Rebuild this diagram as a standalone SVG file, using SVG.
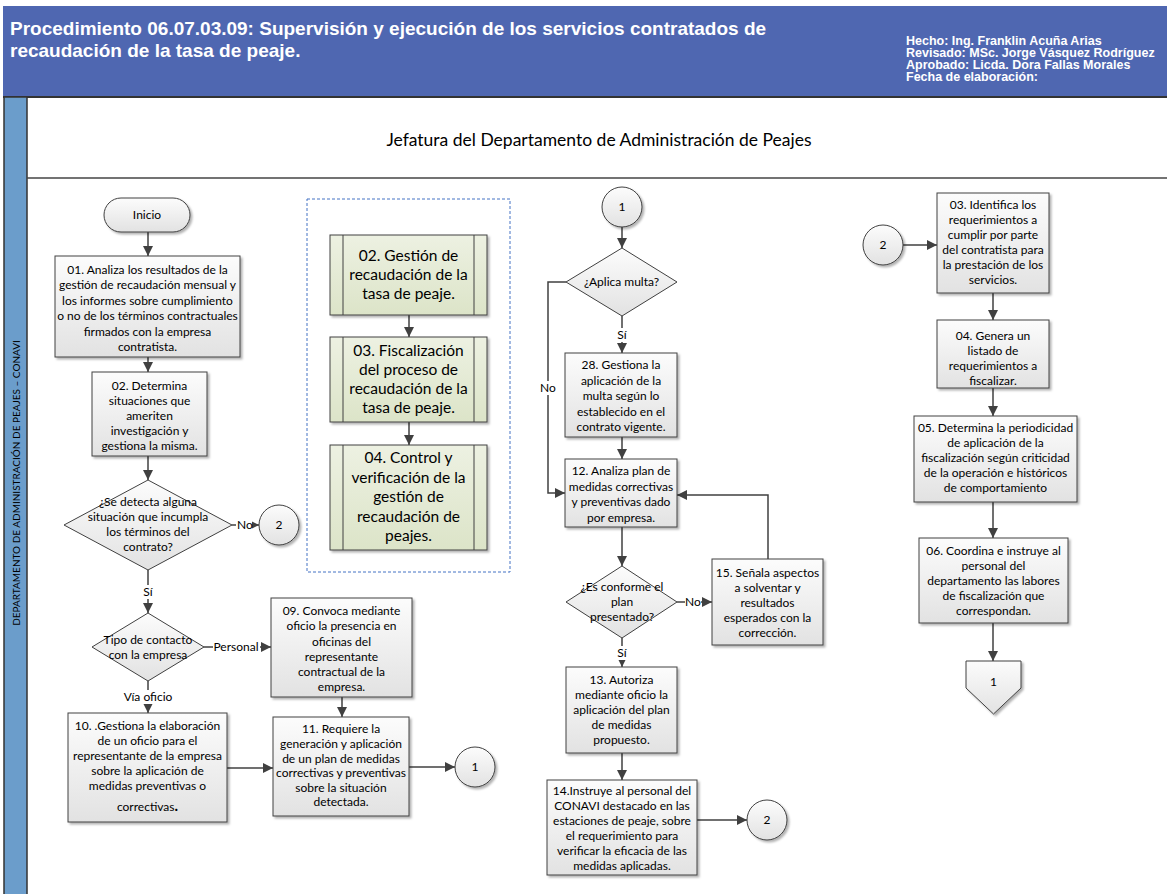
<svg xmlns="http://www.w3.org/2000/svg" width="1167" height="894" viewBox="0 0 1167 894">
<style>
.hdr{font-family:"Liberation Sans",Arial,sans-serif;font-weight:bold;fill:#fff}
.t{font-family:Lato,"Liberation Sans",sans-serif;font-size:12px;fill:#000;text-anchor:middle}
.g{font-family:Lato,"Liberation Sans",sans-serif;font-size:15.5px;fill:#000;text-anchor:middle}
.box{fill:url(#gb);stroke:#404040;stroke-width:1;filter:url(#sh)}
.gbox{fill:url(#gg);stroke:#404040;stroke-width:1;filter:url(#sh)}
.dia{fill:url(#gb);stroke:#404040;stroke-width:1}
.edge{fill:none;stroke:#404040;stroke-width:1.5;marker-end:url(#ar)}
.lbl{fill:#fff}
</style>
<defs>
<linearGradient id="gb" x1="0" y1="0" x2="0" y2="1"><stop offset="0" stop-color="#FCFCFC"/><stop offset="1" stop-color="#E2E2E2"/></linearGradient>
<linearGradient id="gg" x1="0" y1="0" x2="0" y2="1"><stop offset="0" stop-color="#EDF1E2"/><stop offset="1" stop-color="#DCE4C8"/></linearGradient>
<filter id="sh" x="-10%" y="-10%" width="130%" height="130%"><feDropShadow dx="2" dy="2" stdDeviation="1" flood-color="#000" flood-opacity="0.3"/></filter>
<marker id="ar" viewBox="0 0 10 10" refX="10" refY="5" markerWidth="10" markerHeight="10" markerUnits="userSpaceOnUse" orient="auto"><path d="M0,0 L10,5 L0,10 z" fill="#404040"/></marker>
</defs>

<g id="pool">
<rect x="3" y="6" width="1164" height="91" fill="#4F67B1"/>
<line x1="3" y1="97" x2="1167" y2="97" stroke="#333" stroke-width="2"/>
<text class="hdr" font-size="19" x="10" y="35">Procedimiento 06.07.03.09: Supervisión y ejecución de los servicios contratados de</text>
<text class="hdr" font-size="19" x="10" y="57">recaudación de la tasa de peaje.</text>
<text class="hdr" font-size="12.5" x="906" y="45">Hecho: Ing. Franklin Acuña Arias</text>
<text class="hdr" font-size="12.5" x="906" y="57">Revisado: MSc. Jorge Vásquez Rodríguez</text>
<text class="hdr" font-size="12.5" x="906" y="69">Aprobado: Licda. Dora Fallas Morales</text>
<text class="hdr" font-size="12.5" x="906" y="81">Fecha de elaboración:</text>
<rect x="4" y="97" width="23" height="800" fill="#6B9DCB" stroke="#333" stroke-width="1.5"/>
<line x1="27" y1="178" x2="1167" y2="178" stroke="#444" stroke-width="1.5"/>
<text x="599" y="146" font-family="Lato,'Liberation Sans',sans-serif" font-size="17.5" text-anchor="middle" fill="#000">Jefatura del Departamento de Administración de Peajes</text>
<text transform="translate(20,483) rotate(-90)" font-family="Lato,'Liberation Sans',sans-serif" font-size="10" text-anchor="middle" fill="#000">DEPARTAMENTO DE ADMINISTRACIÓN DE PEAJES – CONAVI</text>
</g>

<g id="connectors">
<path class="edge" d="M148,232 V256"/>
<path class="edge" d="M148,357 V372"/>
<path class="edge" d="M148,456 V480"/>
<path class="edge" d="M232,525 H259"/>
<path class="edge" d="M148,570 V613"/>
<path class="edge" d="M204,647 H271"/>
<path class="edge" d="M148,681 V713"/>
<path class="edge" d="M342,697 V717"/>
<path class="edge" d="M227,768 H273"/>
<path class="edge" d="M409,767 H455"/>
<path class="edge" d="M409,315 V337"/>
<path class="edge" d="M409,422 V445"/>
<path class="edge" d="M622,227 V248"/>
<path class="edge" d="M566,282 H548 V493 H565"/>
<path class="edge" d="M622,316 V353"/>
<path class="edge" d="M622,437 V459"/>
<path class="edge" d="M622,527 V566"/>
<path class="edge" d="M677,602 H712"/>
<path class="edge" d="M768,559 V495 H677"/>
<path class="edge" d="M622,638 V667"/>
<path class="edge" d="M622,753 V780"/>
<path class="edge" d="M697,820 H747"/>
<path class="edge" d="M903,245 H937"/>
<path class="edge" d="M993,293 V320"/>
<path class="edge" d="M993,388 V416"/>
<path class="edge" d="M993,502 V538"/>
<path class="edge" d="M993,623 V661"/>
<rect class="lbl" x="236" y="518" width="16" height="14"/><text class="t" x="245" y="529">No</text>
<rect class="lbl" x="141" y="585" width="14" height="14"/><text class="t" x="148" y="596">Sí</text>
<rect class="lbl" x="213" y="640" width="47" height="14"/><text class="t" x="236" y="651">Personal</text>
<rect class="lbl" x="120" y="690" width="56" height="14"/><text class="t" x="148" y="701">Vía oficio</text>
<rect class="lbl" x="539" y="381" width="18" height="14"/><text class="t" x="548" y="392">No</text>
<rect class="lbl" x="615" y="328" width="14" height="14"/><text class="t" x="622" y="339">Sí</text>
<rect class="lbl" x="685" y="595" width="16" height="14"/><text class="t" x="693" y="606">No</text>
<rect class="lbl" x="615" y="646" width="14" height="14"/><text class="t" x="622" y="657">Sí</text>
</g>

<g id="inicio"><rect class="box" x="104" y="198" width="86" height="34" rx="17"/><text class="t" x="147" y="219">Inicio</text></g>

<g id="n01"><rect class="box" x="55" y="256" width="185" height="101"/>
<text class="t" x="147.5"><tspan x="147.5" y="273.5">01. Analiza los resultados de la</tspan><tspan x="147.5" y="289">gestión de recaudación mensual y</tspan><tspan x="147.5" y="304.5">los informes sobre cumplimiento</tspan><tspan x="147.5" y="320">o no de los términos contractuales</tspan><tspan x="147.5" y="335.5">firmados con la empresa</tspan><tspan x="147.5" y="351">contratista.</tspan></text></g>

<g id="n02"><rect class="box" x="92" y="372" width="115" height="84"/>
<text class="t"><tspan x="149.5" y="390">02. Determina</tspan><tspan x="149.5" y="405">situaciones que</tspan><tspan x="149.5" y="420">ameriten</tspan><tspan x="149.5" y="435">investigación y</tspan><tspan x="149.5" y="450">gestiona la misma.</tspan></text></g>

<g id="d1"><polygon class="dia" points="148,480 232,525 148,570 64,525"/>
<text class="t"><tspan x="148" y="506">¿Se detecta alguna</tspan><tspan x="148" y="521">situación que incumpla</tspan><tspan x="148" y="536">los términos del</tspan><tspan x="148" y="551">contrato?</tspan></text></g>

<g id="c2a"><circle class="box" cx="279" cy="525" r="20"/><text class="t" x="279" y="529">2</text></g>

<g id="d2"><polygon class="dia" points="148,613 204,647 148,681 92,647"/>
<text class="t"><tspan x="148" y="644">Tipo de contacto</tspan><tspan x="148" y="659">con la empresa</tspan></text></g>

<g id="n09"><rect class="box" x="271" y="598" width="141" height="99"/>
<text class="t"><tspan x="341.5" y="614.5">09. Convoca mediante</tspan><tspan x="341.5" y="630">oficio la presencia en</tspan><tspan x="341.5" y="645.5">oficinas del</tspan><tspan x="341.5" y="661">representante</tspan><tspan x="341.5" y="676">contractual de la</tspan><tspan x="341.5" y="691">empresa.</tspan></text></g>

<g id="n10"><rect class="box" x="68" y="713" width="159" height="109"/>
<text class="t"><tspan x="147.5" y="730">10. .Gestiona la elaboración</tspan><tspan x="147.5" y="745">de un oficio para el</tspan><tspan x="147.5" y="760">representante de la empresa</tspan><tspan x="147.5" y="775">sobre  la aplicación de</tspan><tspan x="147.5" y="790">medidas preventivas o</tspan><tspan x="147.5" y="811">correctivas<tspan font-size="15" font-weight="bold">.</tspan></tspan></text></g>

<g id="n11"><rect class="box" x="273" y="717" width="136" height="99"/>
<text class="t"><tspan x="341" y="733">11. Requiere la</tspan><tspan x="341" y="748">generación y aplicación</tspan><tspan x="341" y="762.5">de un plan de medidas</tspan><tspan x="341" y="777">correctivas y preventivas</tspan><tspan x="341" y="791.5">sobre la situación</tspan><tspan x="341" y="806">detectada.</tspan></text></g>

<g id="c1a"><circle class="box" cx="475" cy="767" r="20"/><text class="t" x="475" y="771">1</text></g>

<g id="subprocs"><rect x="307" y="199" width="203" height="373" fill="none" stroke="#4472C4" stroke-width="1" stroke-dasharray="3,2"/></g>

<g id="sp02"><rect class="gbox" x="330" y="235" width="157" height="80"/><line x1="343" y1="235" x2="343" y2="315" stroke="#404040"/><line x1="474" y1="235" x2="474" y2="315" stroke="#404040"/>
<text class="g"><tspan x="408.5" y="261">02. Gestión de</tspan><tspan x="408.5" y="280">recaudación de la</tspan><tspan x="408.5" y="299">tasa de peaje.</tspan></text></g>

<g id="sp03"><rect class="gbox" x="330" y="337" width="157" height="85"/><line x1="343" y1="337" x2="343" y2="422" stroke="#404040"/><line x1="474" y1="337" x2="474" y2="422" stroke="#404040"/>
<text class="g"><tspan x="408.5" y="356">03. Fiscalización</tspan><tspan x="408.5" y="375">del proceso de</tspan><tspan x="408.5" y="394">recaudación de la</tspan><tspan x="408.5" y="413">tasa de peaje.</tspan></text></g>

<g id="sp04"><rect class="gbox" x="330" y="445" width="157" height="105"/><line x1="343" y1="445" x2="343" y2="550" stroke="#404040"/><line x1="474" y1="445" x2="474" y2="550" stroke="#404040"/>
<text class="g"><tspan x="408.5" y="463">04. Control y</tspan><tspan x="408.5" y="482.5">verificación de la</tspan><tspan x="408.5" y="502">gestión de</tspan><tspan x="408.5" y="521.5">recaudación de</tspan><tspan x="408.5" y="541">peajes.</tspan></text></g>

<g id="c1b"><circle class="box" cx="622" cy="207" r="20"/><text class="t" x="622" y="211">1</text></g>

<g id="d3"><polygon class="dia" points="622,248 677,282 622,316 566,282"/><text class="t" x="621.5" y="286">¿Aplica multa?</text></g>

<g id="n28"><rect class="box" x="565" y="353" width="112" height="84"/>
<text class="t"><tspan x="621" y="369">28. Gestiona la</tspan><tspan x="621" y="384.5">aplicación de la</tspan><tspan x="621" y="400">multa según lo</tspan><tspan x="621" y="415.5">establecido en el</tspan><tspan x="621" y="431">contrato vigente.</tspan></text></g>

<g id="n12"><rect class="box" x="565" y="459" width="112" height="68"/>
<text class="t"><tspan x="621" y="475">12. Analiza plan de</tspan><tspan x="621" y="490.5">medidas correctivas</tspan><tspan x="621" y="506">y preventivas dado</tspan><tspan x="621" y="521.5">por empresa.</tspan></text></g>

<g id="d4"><polygon class="dia" points="622,566 677,602 622,638 566,602"/>
<text class="t"><tspan x="622" y="591">¿Es conforme el</tspan><tspan x="622" y="606">plan</tspan><tspan x="622" y="621">presentado?</tspan></text></g>

<g id="n15"><rect class="box" x="712" y="559" width="111" height="86"/>
<text class="t"><tspan x="767.5" y="577">15. Señala aspectos</tspan><tspan x="767.5" y="592">a solventar y</tspan><tspan x="767.5" y="607">resultados</tspan><tspan x="767.5" y="622">esperados con la</tspan><tspan x="767.5" y="637">corrección.</tspan></text></g>

<g id="n13"><rect class="box" x="566" y="667" width="111" height="86"/>
<text class="t"><tspan x="621.5" y="684">13. Autoriza</tspan><tspan x="621.5" y="699">mediante oficio la</tspan><tspan x="621.5" y="714">aplicación del plan</tspan><tspan x="621.5" y="729">de medidas</tspan><tspan x="621.5" y="744">propuesto.</tspan></text></g>

<g id="n14"><rect class="box" x="547" y="780" width="150" height="95"/>
<text class="t"><tspan x="622" y="795">14.Instruye al personal del</tspan><tspan x="622" y="810">CONAVI destacado en las</tspan><tspan x="622" y="825">estaciones de peaje, sobre</tspan><tspan x="622" y="840">el requerimiento para</tspan><tspan x="622" y="855">verificar la eficacia de las</tspan><tspan x="622" y="870">medidas aplicadas.</tspan></text></g>

<g id="c2b"><circle class="box" cx="767" cy="820" r="20"/><text class="t" x="767" y="824">2</text></g>

<g id="c2c"><circle class="box" cx="883" cy="245" r="20"/><text class="t" x="883" y="249">2</text></g>

<g id="n03"><rect class="box" x="937" y="193" width="112" height="100"/>
<text class="t"><tspan x="993" y="209">03. Identifica los</tspan><tspan x="993" y="224">requerimientos a</tspan><tspan x="993" y="239">cumplir por parte</tspan><tspan x="993" y="254">del contratista para</tspan><tspan x="993" y="269">la prestación de los</tspan><tspan x="993" y="284">servicios.</tspan></text></g>

<g id="n04"><rect class="box" x="937" y="320" width="112" height="68"/>
<text class="t"><tspan x="993" y="340">04. Genera un</tspan><tspan x="993" y="355">listado  de</tspan><tspan x="993" y="370">requerimientos a</tspan><tspan x="993" y="384.5">fiscalizar.</tspan></text></g>

<g id="n05"><rect class="box" x="914" y="416" width="163" height="86"/>
<text class="t"><tspan x="995.5" y="432">05. Determina la periodicidad</tspan><tspan x="995.5" y="447">de aplicación de la</tspan><tspan x="995.5" y="462">fiscalización según criticidad</tspan><tspan x="995.5" y="477">de la operación e históricos</tspan><tspan x="995.5" y="492">de comportamiento</tspan></text></g>

<g id="n06"><rect class="box" x="919" y="538" width="149" height="85"/>
<text class="t"><tspan x="993.5" y="555">06. Coordina e instruye al</tspan><tspan x="993.5" y="570">personal del</tspan><tspan x="993.5" y="585">departamento las labores</tspan><tspan x="993.5" y="600">de fiscalización que</tspan><tspan x="993.5" y="615">correspondan.</tspan></text></g>

<g id="off1"><polygon class="box" points="966,661 1021,661 1021,688 993.5,714 966,688"/><text class="t" x="993.5" y="686">1</text></g>
</svg>
